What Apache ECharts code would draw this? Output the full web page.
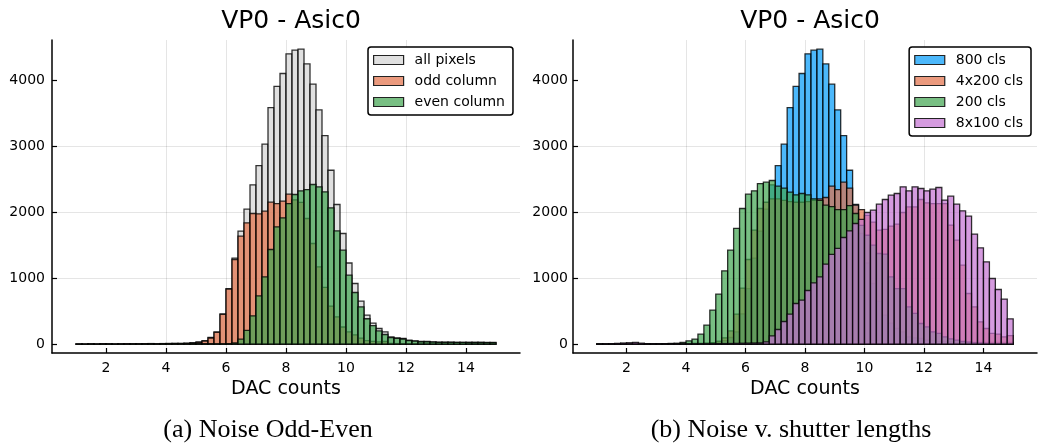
<!DOCTYPE html>
<html>
<head>
<meta charset="utf-8">
<script src="https://cdn.jsdelivr.net/npm/echarts@6/dist/echarts.min.js"></script>
<style>
  html, body { margin: 0; padding: 0; background: #fff; }
  #chart { width: 1038px; height: 446px; }
</style>
</head>
<body>
<div id="chart"></div>
<script>
// histogram bin edges (DAC counts), 70 bins of width 0.2
const binEdges = [1.0, 1.2, 1.4, 1.6, 1.8, 2.0, 2.2, 2.4, 2.6, 2.8,
  3.0, 3.2, 3.4, 3.6, 3.8, 4.0, 4.2, 4.4, 4.6, 4.8,
  5.0, 5.2, 5.4, 5.6, 5.8, 6.0, 6.2, 6.4, 6.6, 6.8,
  7.0, 7.2, 7.4, 7.6, 7.8, 8.0, 8.2, 8.4, 8.6, 8.8,
  9.0, 9.2, 9.4, 9.6, 9.8, 10.0, 10.2, 10.4, 10.6, 10.8,
  11.0, 11.2, 11.4, 11.6, 11.8, 12.0, 12.2, 12.4, 12.6, 12.8,
  13.0, 13.2, 13.4, 13.6, 13.8, 14.0, 14.2, 14.4, 14.6, 14.8, 15.0];

const xTicks = [2, 4, 6, 8, 10, 12, 14];
const yTicks = [0, 1000, 2000, 3000, 4000];

// (a) Noise Odd-Even
const allPixels = [3, 2, 5, 3, 6, 5, 3, 5, 6, 6,
  6, 7, 9, 6, 9, 11, 13, 13, 16, 22,
  33, 53, 101, 186, 458, 841, 1303, 1712, 2045, 2415,
  2705, 3030, 3585, 3905, 4101, 4400, 4455, 4470, 4247, 3939,
  3550, 3160, 2635, 2116, 1677, 1230, 919, 651, 439, 320,
  237, 187, 111, 96, 86, 61, 50, 40, 40, 35,
  31, 30, 30, 28, 28, 27, 27, 27, 26, 25];
const oddColumn = [2, 1, 3, 2, 4, 3, 2, 3, 4, 3,
  3, 4, 5, 3, 5, 6, 8, 7, 10, 14,
  25, 45, 93, 180, 452, 833, 1283, 1636, 1838, 1980,
  1975, 2015, 2151, 2130, 2166, 2273, 2187, 2147, 1904, 1525,
  1172, 859, 576, 414, 260, 185, 140, 90, 55, 42,
  35, 40, 12, 9, 8, 6, 5, 4, 4, 3,
  3, 3, 2, 2, 2, 2, 1, 1, 1, 1];
const evenColumn = [1, 1, 2, 1, 2, 2, 1, 2, 2, 3,
  3, 3, 4, 3, 4, 5, 5, 6, 6, 8,
  8, 8, 8, 6, 6, 8, 20, 75, 210, 430,
  732, 1020, 1434, 1778, 1914, 2130, 2268, 2323, 2343, 2419,
  2384, 2308, 2066, 1717, 1424, 1045, 783, 566, 385, 280,
  200, 146, 100, 88, 78, 55, 45, 36, 36, 32,
  28, 27, 27, 26, 26, 25, 25, 25, 24, 24];

// (b) Noise v. shutter lengths
const cls800 = [3, 2, 5, 3, 6, 5, 3, 5, 6, 6,
  6, 7, 9, 6, 9, 11, 13, 13, 16, 22,
  33, 53, 101, 186, 458, 841, 1303, 1712, 2045, 2415,
  2705, 3030, 3585, 3905, 4101, 4400, 4455, 4470, 4247, 3939,
  3550, 3160, 2635, 2116, 1677, 1230, 919, 651, 439, 320,
  237, 187, 111, 96, 86, 61, 50, 40, 40, 35,
  31, 30, 30, 28, 28, 27, 27, 27, 26, 25];
const cls4x200 = [1, 1, 1, 1, 1, 1, 1, 1, 2, 2,
  2, 2, 3, 3, 4, 5, 6, 8, 12, 22,
  45, 96, 200, 455, 850, 1283, 1727, 2056, 2150, 2200,
  2200, 2180, 2160, 2150, 2150, 2160, 2180, 2200, 2222, 2394,
  2343, 2455, 2364, 2106, 2040, 1950, 1850, 1727, 1740, 1790,
  1818, 1995, 2080, 2080, 2192, 2141, 2131, 2131, 2131, 1803,
  1576, 1197, 768, 566, 338, 237, 162, 152, 111, 130];
const cls200 = [2, 3, 5, 8, 12, 15, 10, 6, 5, 5,
  6, 8, 10, 14, 25, 50, 76, 151, 288, 515,
  758, 1111, 1424, 1753, 2056, 2273, 2323, 2434, 2455, 2480,
  2394, 2364, 2303, 2263, 2283, 2263, 2202, 2180, 2106, 2085,
  2040, 2040, 2100, 1980, 1800, 1650, 1500, 1374, 1364, 1020,
  843, 843, 566, 465, 313, 263, 187, 162, 111, 80,
  60, 40, 30, 20, 15, 10, 8, 5, 4, 3];
const cls8x100 = [3, 5, 8, 12, 15, 20, 25, 15, 8, 6,
  5, 5, 4, 4, 4, 5, 5, 6, 6, 7,
  8, 9, 10, 12, 14, 16, 18, 20, 35, 126,
  222, 343, 455, 616, 667, 813, 929, 1020, 1212, 1359,
  1450, 1616, 1717, 1828, 1890, 1995, 2030, 2121, 2192, 2258,
  2283, 2384, 2323, 2384, 2359, 2323, 2348, 2374, 2182, 2242,
  2121, 2020, 1939, 1667, 1460, 1247, 995, 828, 682, 384];

const FONT = 'DejaVu Sans';
const EDGE = 'rgba(0,0,0,0.8)';

function histogram(name, counts, fill, idx) {
  return {
    type: 'custom',
    name: name,
    xAxisIndex: idx,
    yAxisIndex: idx,
    itemStyle: { color: fill },
    data: counts.map((c, i) => [binEdges[i], binEdges[i + 1], c]),
    encode: { x: [0, 1], y: 2 },
    renderItem: function (params, api) {
      const top = api.coord([api.value(0), api.value(2)]);
      const bot = api.coord([api.value(1), 0]);
      return {
        type: 'rect',
        shape: { x: top[0], y: top[1], width: bot[0] - top[0], height: bot[1] - top[1] },
        style: { fill: fill, stroke: EDGE, lineWidth: 1.3 }
      };
    },
    silent: true
  };
}

function xAxis(idx) {
  return {
    gridIndex: idx, type: 'value', min: 0.2, max: 15.8,
    name: 'DAC counts', nameLocation: 'middle', nameGap: 26,
    nameTextStyle: { fontFamily: FONT, fontSize: 19, color: '#000' },
    axisLine: { onZero: false, lineStyle: { color: '#000', width: 1.5 } },
    axisTick: { inside: true, length: 5, customValues: xTicks, lineStyle: { color: '#000', width: 1.2 } },
    axisLabel: { customValues: xTicks, margin: 8, fontFamily: FONT, fontSize: 14, color: '#000' },
    splitLine: { show: true, showMinLine: false, showMaxLine: false, lineStyle: { color: 'rgba(0,0,0,0.1)', width: 1 } }
  };
}

function yAxis(idx, margin) {
  return {
    gridIndex: idx, type: 'value', min: -134, max: 4609,
    axisLine: { show: true, onZero: false, lineStyle: { color: '#000', width: 1.5 } },
    axisTick: { show: true, inside: true, length: 5, customValues: yTicks, lineStyle: { color: '#000', width: 1.2 } },
    axisLabel: { customValues: yTicks, margin: margin, formatter: v => String(v),
      fontFamily: FONT, fontSize: 14, color: '#000' },
    splitLine: { show: true, showMinLine: false, showMaxLine: false, lineStyle: { color: 'rgba(0,0,0,0.1)', width: 1 } }
  };
}

function legendItem(name, fill) {
  return { name: name, itemStyle: { color: fill, borderColor: '#222', borderWidth: 1.2 } };
}

const legendBase = {
  orient: 'vertical', icon: 'rect', itemWidth: 30, itemHeight: 9, itemGap: 7,
  backgroundColor: '#fff', borderColor: '#000', borderWidth: 1.5, borderRadius: 3,
  padding: [6, 8, 6, 5],
  textStyle: { fontFamily: FONT, fontSize: 14, color: '#000', padding: [0, 0, 0, 6] },
  selectedMode: false
};

const GREY = 'rgba(211,211,211,0.7)';
const BLUE = 'rgba(0,154,250,0.7)';
const ORANGE = 'rgba(227,111,71,0.7)';
const GREEN = 'rgba(62,164,78,0.7)';
const PURPLE = 'rgba(195,113,210,0.7)';

const option = {
  animation: false,
  backgroundColor: '#fff',
  title: [
    { text: 'VP0 - Asic0', left: 286, top: 4, textAlign: 'center',
      textStyle: { fontFamily: FONT, fontSize: 25, fontWeight: 'normal', color: '#000' } },
    { text: 'VP0 - Asic0', left: 805, top: 4, textAlign: 'center',
      textStyle: { fontFamily: FONT, fontSize: 25, fontWeight: 'normal', color: '#000' } },
    { text: '(a) Noise Odd-Even', left: 263, top: 412, textAlign: 'center',
      textStyle: { fontFamily: 'Liberation Serif', fontSize: 26, fontWeight: 'normal', color: '#000' } },
    { text: '(b) Noise v. shutter lengths', left: 786, top: 412, textAlign: 'center',
      textStyle: { fontFamily: 'Liberation Serif', fontSize: 26, fontWeight: 'normal', color: '#000' } }
  ],
  legend: [
    Object.assign({}, legendBase, { left: 368, top: 47,
      data: [legendItem('all pixels', GREY), legendItem('odd column', ORANGE), legendItem('even column', GREEN)] }),
    Object.assign({}, legendBase, { right: 7, top: 47,
      data: [legendItem('800 cls', BLUE), legendItem('4x200 cls', ORANGE), legendItem('200 cls', GREEN), legendItem('8x100 cls', PURPLE)] })
  ],
  grid: [
    { left: 52, top: 40, width: 468, height: 313 },
    { left: 573, top: 40, width: 464, height: 313 }
  ],
  xAxis: [xAxis(0), xAxis(1)],
  yAxis: [yAxis(0, 7), yAxis(1, 5)],
  series: [
    histogram('all pixels', allPixels, GREY, 0),
    histogram('odd column', oddColumn, ORANGE, 0),
    histogram('even column', evenColumn, GREEN, 0),
    histogram('800 cls', cls800, BLUE, 1),
    histogram('4x200 cls', cls4x200, ORANGE, 1),
    histogram('200 cls', cls200, GREEN, 1),
    histogram('8x100 cls', cls8x100, PURPLE, 1)
  ]
};

const chart = echarts.init(document.getElementById('chart'), null, { renderer: 'canvas' });
chart.setOption(option);
window.addEventListener('resize', chart.resize);
</script>
</body>
</html>
